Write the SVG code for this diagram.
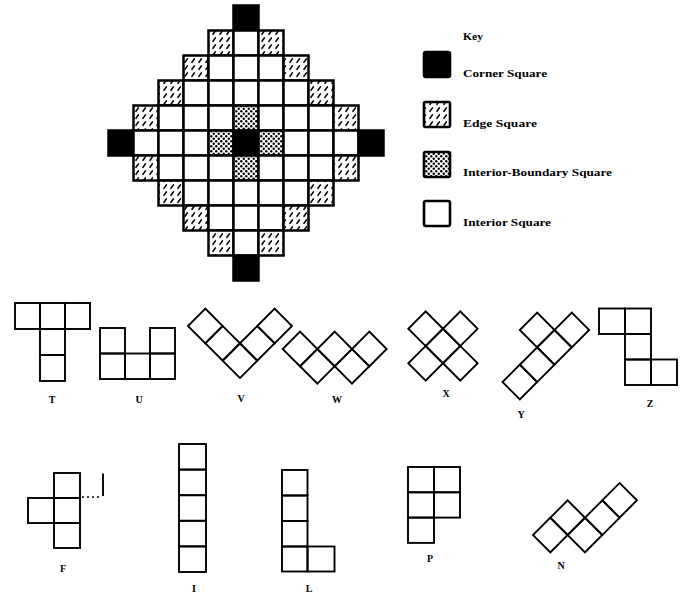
<svg xmlns="http://www.w3.org/2000/svg" width="683" height="593" viewBox="0 0 683 593">
<defs>
<pattern id="pEdge" width="7" height="7" patternUnits="userSpaceOnUse" x="1" y="1">
<rect width="7" height="7" fill="#fff"/>
<path d="M2,5.3 L4.4,1.9" stroke="#000" stroke-width="1.6" stroke-linecap="round"/>
</pattern>
<pattern id="pIB" width="5" height="5" patternUnits="userSpaceOnUse">
<rect width="5" height="5" fill="#fff"/>
<circle cx="1.25" cy="1.25" r="1.2" fill="#000"/>
<circle cx="3.75" cy="3.75" r="1.2" fill="#000"/>
</pattern>
<style>
.c{fill:#000;stroke:#000;stroke-width:2.5}
.e{fill:url(#pEdge);stroke:#000;stroke-width:2.5}
.b{fill:url(#pIB);stroke:#000;stroke-width:2.5}
.i{fill:#fff;stroke:#000;stroke-width:2.5}
.k{stroke:#000;stroke-width:2.6}
.pc rect{fill:none;stroke:#000;stroke-width:1.9}
.kt{font-family:"Liberation Serif","Times New Roman",serif;font-weight:bold;font-size:11px;fill:#000}
.lbl{font-family:"Liberation Serif","Times New Roman",serif;font-weight:bold;font-size:10px;fill:#000;text-anchor:middle}
</style>
</defs>
<rect width="683" height="593" fill="#fff"/>

<g id="board">
<rect class="c" x="233.5" y="5.5" width="25" height="25"/>
<rect class="e" x="208.5" y="30.5" width="25" height="25"/>
<rect class="i" x="233.5" y="30.5" width="25" height="25"/>
<rect class="e" x="258.5" y="30.5" width="25" height="25"/>
<rect class="e" x="183.5" y="55.5" width="25" height="25"/>
<rect class="i" x="208.5" y="55.5" width="25" height="25"/>
<rect class="i" x="233.5" y="55.5" width="25" height="25"/>
<rect class="i" x="258.5" y="55.5" width="25" height="25"/>
<rect class="e" x="283.5" y="55.5" width="25" height="25"/>
<rect class="e" x="158.5" y="80.5" width="25" height="25"/>
<rect class="i" x="183.5" y="80.5" width="25" height="25"/>
<rect class="i" x="208.5" y="80.5" width="25" height="25"/>
<rect class="i" x="233.5" y="80.5" width="25" height="25"/>
<rect class="i" x="258.5" y="80.5" width="25" height="25"/>
<rect class="i" x="283.5" y="80.5" width="25" height="25"/>
<rect class="e" x="308.5" y="80.5" width="25" height="25"/>
<rect class="e" x="133.5" y="105.5" width="25" height="25"/>
<rect class="i" x="158.5" y="105.5" width="25" height="25"/>
<rect class="i" x="183.5" y="105.5" width="25" height="25"/>
<rect class="i" x="208.5" y="105.5" width="25" height="25"/>
<rect class="b" x="233.5" y="105.5" width="25" height="25"/>
<rect class="i" x="258.5" y="105.5" width="25" height="25"/>
<rect class="i" x="283.5" y="105.5" width="25" height="25"/>
<rect class="i" x="308.5" y="105.5" width="25" height="25"/>
<rect class="e" x="333.5" y="105.5" width="25" height="25"/>
<rect class="c" x="108.5" y="130.5" width="25" height="25"/>
<rect class="i" x="133.5" y="130.5" width="25" height="25"/>
<rect class="i" x="158.5" y="130.5" width="25" height="25"/>
<rect class="i" x="183.5" y="130.5" width="25" height="25"/>
<rect class="b" x="208.5" y="130.5" width="25" height="25"/>
<rect class="c" x="233.5" y="130.5" width="25" height="25"/>
<rect class="b" x="258.5" y="130.5" width="25" height="25"/>
<rect class="i" x="283.5" y="130.5" width="25" height="25"/>
<rect class="i" x="308.5" y="130.5" width="25" height="25"/>
<rect class="i" x="333.5" y="130.5" width="25" height="25"/>
<rect class="c" x="358.5" y="130.5" width="25" height="25"/>
<rect class="e" x="133.5" y="155.5" width="25" height="25"/>
<rect class="i" x="158.5" y="155.5" width="25" height="25"/>
<rect class="i" x="183.5" y="155.5" width="25" height="25"/>
<rect class="i" x="208.5" y="155.5" width="25" height="25"/>
<rect class="b" x="233.5" y="155.5" width="25" height="25"/>
<rect class="i" x="258.5" y="155.5" width="25" height="25"/>
<rect class="i" x="283.5" y="155.5" width="25" height="25"/>
<rect class="i" x="308.5" y="155.5" width="25" height="25"/>
<rect class="e" x="333.5" y="155.5" width="25" height="25"/>
<rect class="e" x="158.5" y="180.5" width="25" height="25"/>
<rect class="i" x="183.5" y="180.5" width="25" height="25"/>
<rect class="i" x="208.5" y="180.5" width="25" height="25"/>
<rect class="i" x="233.5" y="180.5" width="25" height="25"/>
<rect class="i" x="258.5" y="180.5" width="25" height="25"/>
<rect class="i" x="283.5" y="180.5" width="25" height="25"/>
<rect class="e" x="308.5" y="180.5" width="25" height="25"/>
<rect class="e" x="183.5" y="205.5" width="25" height="25"/>
<rect class="i" x="208.5" y="205.5" width="25" height="25"/>
<rect class="i" x="233.5" y="205.5" width="25" height="25"/>
<rect class="i" x="258.5" y="205.5" width="25" height="25"/>
<rect class="e" x="283.5" y="205.5" width="25" height="25"/>
<rect class="e" x="208.5" y="230.5" width="25" height="25"/>
<rect class="i" x="233.5" y="230.5" width="25" height="25"/>
<rect class="e" x="258.5" y="230.5" width="25" height="25"/>
<rect class="c" x="233.5" y="255.5" width="25" height="25"/>
</g>

<g id="key">
<text class="kt" x="463" y="40" textLength="20" lengthAdjust="spacingAndGlyphs">Key</text>
<rect class="k" x="424" y="52" width="26" height="25" rx="2" fill="#000"/>
<text class="kt" x="463" y="77" textLength="84" lengthAdjust="spacingAndGlyphs">Corner Square</text>
<rect class="k" x="424" y="102" width="26" height="25" rx="1.5" fill="url(#pEdge)"/>
<text class="kt" x="463" y="127" textLength="74" lengthAdjust="spacingAndGlyphs">Edge Square</text>
<rect class="k" x="424" y="152" width="26" height="25" rx="1.5" fill="url(#pIB)"/>
<text class="kt" x="463" y="176" textLength="149" lengthAdjust="spacingAndGlyphs">Interior-Boundary Square</text>
<rect class="k" x="424" y="201" width="26" height="25" rx="2" fill="#fff"/>
<text class="kt" x="463" y="226" textLength="88" lengthAdjust="spacingAndGlyphs">Interior Square</text>
</g>

<g id="pent-T" class="pc">
<rect x="15" y="303" width="25" height="26"/>
<rect x="40" y="303" width="25" height="26"/>
<rect x="65" y="303" width="25" height="26"/>
<rect x="40" y="329" width="25" height="26"/>
<rect x="40" y="355" width="25" height="26"/>
<text class="lbl" x="52" y="403">T</text>
</g>

<g id="pent-U" class="pc">
<rect x="100" y="328" width="25" height="25.5"/>
<rect x="100" y="353.5" width="25" height="25.5"/>
<rect x="125" y="353.5" width="25" height="25.5"/>
<rect x="150" y="353.5" width="25" height="25.5"/>
<rect x="150" y="328" width="25" height="25.5"/>
<text class="lbl" x="139" y="403">U</text>
</g>

<g id="pent-V" class="pc">
<g transform="translate(188,326) rotate(-45)">
<rect x="0" y="0" width="24.5" height="24.5"/>
<rect x="0" y="24.5" width="24.5" height="24.5"/>
<rect x="0" y="49" width="24.5" height="24.5"/>
<rect x="24.5" y="49" width="24.5" height="24.5"/>
<rect x="49" y="49" width="24.5" height="24.5"/>
</g>
<text class="lbl" x="241" y="402">V</text>
</g>

<g id="pent-W" class="pc">
<g transform="translate(282.7,349) rotate(-45)">
<rect x="0" y="0" width="24.5" height="24.5"/>
<rect x="0" y="24.5" width="24.5" height="24.5"/>
<rect x="24.5" y="24.5" width="24.5" height="24.5"/>
<rect x="24.5" y="49" width="24.5" height="24.5"/>
<rect x="49" y="49" width="24.5" height="24.5"/>
</g>
<text class="lbl" x="337" y="403">W</text>
</g>

<g id="pent-X" class="pc">
<g transform="translate(391,346) rotate(-45)">
<rect x="24.5" y="0" width="24.5" height="24.5"/>
<rect x="0" y="24.5" width="24.5" height="24.5"/>
<rect x="24.5" y="24.5" width="24.5" height="24.5"/>
<rect x="49" y="24.5" width="24.5" height="24.5"/>
<rect x="24.5" y="49" width="24.5" height="24.5"/>
</g>
<text class="lbl" x="446" y="397">X</text>
</g>

<g id="pent-Y" class="pc">
<g transform="translate(502.5,382) rotate(-45)">
<rect x="0" y="0" width="24.5" height="24.5"/>
<rect x="24.5" y="0" width="24.5" height="24.5"/>
<rect x="49" y="0" width="24.5" height="24.5"/>
<rect x="73.5" y="0" width="24.5" height="24.5"/>
<rect x="49" y="-24.5" width="24.5" height="24.5"/>
</g>
<text class="lbl" x="521" y="418">Y</text>
</g>

<g id="pent-Z" class="pc">
<rect x="599" y="308.5" width="26" height="25.5"/>
<rect x="625" y="308.5" width="26" height="25.5"/>
<rect x="625" y="334" width="26" height="25.5"/>
<rect x="625" y="359.5" width="26" height="25.5"/>
<rect x="651" y="359.5" width="26" height="25.5"/>
<text class="lbl" x="650" y="407">Z</text>
</g>

<g id="pent-F" class="pc">
<rect x="54" y="473" width="26" height="25"/>
<rect x="28" y="498" width="26" height="25"/>
<rect x="54" y="498" width="26" height="25"/>
<rect x="54" y="523" width="26" height="25"/>
<path d="M103,473.5 V496" fill="none" stroke="#000" stroke-width="1.9"/>
<path d="M82,497 H102" fill="none" stroke="#000" stroke-width="1.6" stroke-dasharray="2,3"/>
<text class="lbl" x="63" y="572">F</text>
</g>

<g id="pent-I" class="pc">
<rect x="179" y="444" width="27" height="25.6"/>
<rect x="179" y="469.6" width="27" height="25.6"/>
<rect x="179" y="495.2" width="27" height="25.6"/>
<rect x="179" y="520.8" width="27" height="25.6"/>
<rect x="179" y="546.4" width="27" height="25.6"/>
<text class="lbl" x="194" y="592">I</text>
</g>

<g id="pent-L" class="pc">
<rect x="282" y="470" width="25.5" height="25.5"/>
<rect x="282" y="495.5" width="25.5" height="25.5"/>
<rect x="282" y="521" width="25.5" height="25.5"/>
<rect x="282" y="546.5" width="25.5" height="25"/>
<rect x="307.5" y="546.5" width="27" height="25"/>
<text class="lbl" x="309" y="592">L</text>
</g>

<g id="pent-P" class="pc">
<rect x="408" y="467" width="26" height="25.3"/>
<rect x="434" y="467" width="26" height="25.3"/>
<rect x="408" y="492.3" width="26" height="25.3"/>
<rect x="434" y="492.3" width="26" height="25.3"/>
<rect x="408" y="517.6" width="26" height="25.3"/>
<text class="lbl" x="430" y="562">P</text>
</g>

<g id="pent-N" class="pc">
<g transform="translate(533,535) rotate(-45)">
<rect x="0" y="0" width="24.5" height="24.5"/>
<rect x="24.5" y="0" width="24.5" height="24.5"/>
<rect x="24.5" y="24.5" width="24.5" height="24.5"/>
<rect x="49" y="24.5" width="24.5" height="24.5"/>
<rect x="73.5" y="24.5" width="24.5" height="24.5"/>
</g>
<text class="lbl" x="561" y="569">N</text>
</g>

<g id="connectors"/>
</svg>
